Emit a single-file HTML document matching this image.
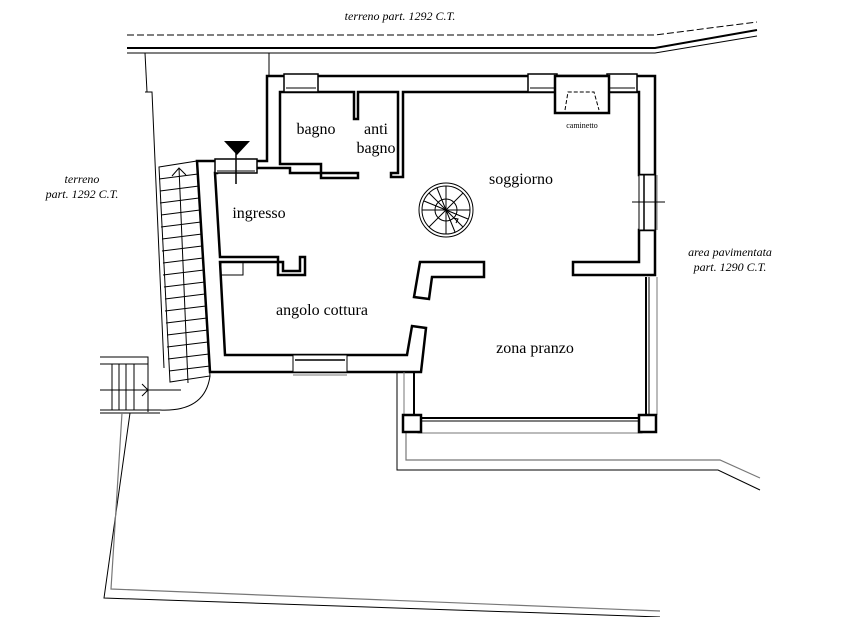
<!DOCTYPE html>
<html><head><meta charset="utf-8"><style>
html,body{margin:0;padding:0;background:#fff}
svg{display:block}
.w{fill:#fff;stroke:#000;stroke-width:2.5;stroke-linejoin:miter}
.t{fill:none;stroke:#000;stroke-width:1}
.g{fill:none;stroke:#777;stroke-width:1.2}
.lbl{font-family:"Liberation Serif",serif;font-size:16px;fill:#000}
.it{font-family:"Liberation Serif",serif;font-style:italic;font-size:12px;fill:#000}
</style></head><body>
<svg width="859" height="617" viewBox="0 0 859 617" xmlns="http://www.w3.org/2000/svg">
<polyline class="t" points="127,35 655,35 757,22" stroke-dasharray="7,3"/>
<polyline fill="none" stroke="#000" stroke-width="2" points="127,48 655,48 757,30"/>
<polyline class="t" points="127,53 655,53 757,36"/>
<line class="t" x1="145" y1="53" x2="147" y2="92"/>
<line class="t" x1="269" y1="53" x2="269" y2="76"/>
<text class="it" x="400" y="20" text-anchor="middle">terreno part. 1292 C.T.</text>
<text class="it" x="82" y="183" text-anchor="middle">terreno</text>
<text class="it" x="82" y="198" text-anchor="middle">part. 1292 C.T.</text>
<text class="it" x="730" y="256" text-anchor="middle">area  pavimentata</text>
<text class="it" x="730" y="271" text-anchor="middle">part. 1290 C.T.</text>

<polyline class="t" points="145,92 152,92 164,368"/>
<polygon class="t" points="159,167 197,161 210,376 170,382"/>
<g class="t">
<line x1="159" y1="179" x2="198" y2="174"/><line x1="160" y1="191" x2="199" y2="186"/>
<line x1="160" y1="203" x2="199" y2="198"/><line x1="161" y1="215" x2="200" y2="210"/>
<line x1="161" y1="227" x2="201" y2="222"/><line x1="162" y1="239" x2="202" y2="234"/>
<line x1="162" y1="251" x2="202" y2="246"/><line x1="163" y1="263" x2="203" y2="258"/>
<line x1="163" y1="275" x2="204" y2="270"/><line x1="164" y1="287" x2="205" y2="282"/>
<line x1="165" y1="299" x2="205" y2="294"/><line x1="165" y1="311" x2="206" y2="306"/>
<line x1="166" y1="323" x2="207" y2="318"/><line x1="167" y1="335" x2="208" y2="330"/>
<line x1="167" y1="347" x2="208" y2="342"/><line x1="168" y1="359" x2="209" y2="354"/>
<line x1="169" y1="371" x2="210" y2="366"/>
<line x1="179" y1="168" x2="188" y2="383"/>
<polyline points="172,176 179,168 186,175"/>
</g>
<g class="t">
<polyline points="100,357 148,357 148,412"/>
<line x1="100" y1="390" x2="181" y2="390"/>
<line x1="112" y1="364" x2="112" y2="410"/><line x1="119" y1="364" x2="119" y2="410"/>
<line x1="126" y1="364" x2="126" y2="410"/><line x1="134" y1="364" x2="134" y2="410"/>
<line x1="100" y1="364" x2="148" y2="364"/>
<polyline points="142,384 148,390 142,396"/>
<path d="M100,410 L160,410 Q205,412 210,376"/>
<line x1="100" y1="413" x2="160" y2="413"/>
</g>
<polyline class="t" points="130,413 104,598 660,617"/>
<polyline class="g" points="122,413 111,589 660,611"/>
<polyline class="t" points="397,372 397,470 718,470 760,490"/>
<polyline class="g" points="406,432 406,460 720,460 760,478"/>

<path class="w" d="M267,76 L655,76 L655,275 L573,275 L573,262 L639,262 L639,230 L655,230 L655,175 L639,175 L639,92 L403,92 L403,177 L391,177 L391,173 L398,173 L398,92 L358,92 L358,119 L354,119 L354,92 L280,92 L280,164 L321,164 L321,173 L358,173 L358,178 L321,178 L321,173 L290,173 L290,168 L255,168 L255,161 L267,161 Z"/>
<path class="w" d="M197,161 L217,161 L217,173 L215,173 L220,257 L278,257 L278,275 L305,275 L305,257 L300,257 L300,271 L283,271 L283,262 L220,262 L225,355 L407,355 L412,326 L426,328 L421,372 L210,372 Z"/>
<rect x="221" y="262" width="22" height="13" class="t"/>
<polygon class="w" points="420,262 484,262 484,277 432,277 429,299 414,297"/>
<rect x="284" y="74" width="34" height="18" fill="#fff" stroke="#000" stroke-width="1.5"/>
<line x1="286" y1="88" x2="316" y2="88" stroke="#000"/>
<rect x="528" y="74" width="29" height="18" fill="#fff" stroke="#000" stroke-width="1.5"/>
<line x1="530" y1="88" x2="555" y2="88" stroke="#000"/>
<rect x="607" y="74" width="30" height="18" fill="#fff" stroke="#000" stroke-width="1.5"/>
<line x1="609" y1="88" x2="635" y2="88" stroke="#000"/>
<rect x="555" y="76" width="54" height="37" class="w"/>
<polyline points="565,110 568,92 594,92 599,110" fill="none" stroke="#000" stroke-dasharray="4,2"/>
<text x="582" y="128" text-anchor="middle" style="font-family:'Liberation Serif',serif;font-size:8px">caminetto</text>
<rect x="215" y="159" width="42" height="14" fill="#fff" stroke="#000" stroke-width="1.5"/>
<line x1="217" y1="171" x2="255" y2="171" stroke="#000"/>
<polygon points="224,141 250,141 237,155" fill="#000"/>
<line x1="236" y1="141" x2="236" y2="184" stroke="#000" stroke-width="1.5"/>
<rect x="639" y="175" width="16" height="55" fill="#fff" stroke="#000" stroke-width="1"/>
<line x1="644" y1="175" x2="644" y2="230" stroke="#000" stroke-width="1.5"/>
<line x1="657" y1="175" x2="657" y2="230" stroke="#777"/>
<line x1="632" y1="202" x2="665" y2="202" stroke="#000"/>
<rect x="293" y="355" width="54" height="17" fill="#fff" stroke="#000" stroke-width="1"/>
<line x1="295" y1="360" x2="345" y2="360" stroke="#000" stroke-width="1.5"/>
<line x1="293" y1="375" x2="347" y2="375" stroke="#777"/>
<line x1="646" y1="277" x2="646" y2="415" stroke="#000" stroke-width="2"/>
<line x1="649" y1="277" x2="649" y2="415" stroke="#000"/>
<line x1="657" y1="277" x2="657" y2="415" stroke="#777"/>
<line x1="414" y1="372" x2="414" y2="415" stroke="#000" stroke-width="2"/>
<line x1="404" y1="372" x2="404" y2="415" stroke="#777"/>
<line x1="420" y1="418" x2="640" y2="418" stroke="#000" stroke-width="2"/>
<line x1="420" y1="421" x2="640" y2="421" stroke="#000"/>
<polyline points="418,421 418,433 642,433 642,421" fill="none" stroke="#777"/>
<rect x="403" y="415" width="18" height="17" class="w"/>
<rect x="639" y="415" width="17" height="17" class="w"/>
<g fill="none" stroke="#000" stroke-width="1">
<circle cx="446" cy="210" r="27"/><circle cx="446" cy="210" r="24"/><circle cx="446" cy="210" r="11"/>
<line x1="446" y1="186" x2="446" y2="234"/><line x1="422" y1="210" x2="470" y2="210"/>
<line x1="429" y1="193" x2="463" y2="227"/><line x1="463" y1="193" x2="429" y2="227"/>
<line x1="437" y1="188" x2="455" y2="232"/><line x1="424" y1="201" x2="468" y2="219"/>
<polyline points="453,218 458,219 456,223"/>
</g>
<text class="lbl" x="316" y="134" text-anchor="middle">bagno</text>
<text class="lbl" x="376" y="134" text-anchor="middle">anti</text>
<text class="lbl" x="376" y="153" text-anchor="middle">bagno</text>
<text class="lbl" x="521" y="184" text-anchor="middle">soggiorno</text>
<text class="lbl" x="259" y="218" text-anchor="middle">ingresso</text>
<text class="lbl" x="322" y="315" text-anchor="middle">angolo cottura</text>
<text class="lbl" x="535" y="353" text-anchor="middle">zona pranzo</text>
</svg>
</body></html>
